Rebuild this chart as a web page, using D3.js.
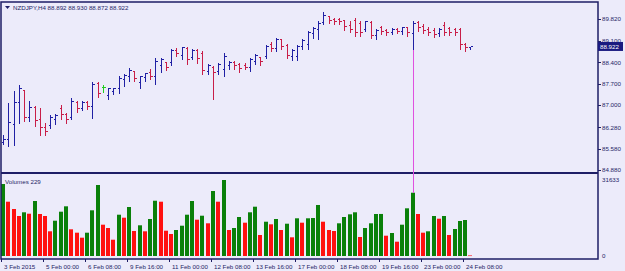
<!DOCTYPE html>
<html>
<head>
<meta charset="utf-8">
<script src="https://cdn.jsdelivr.net/npm/d3@7"></script>
<style>
  body { margin: 0; background: #ecebfa; }
  svg { display: block; font-family: "Liberation Sans", Arial, sans-serif; }
</style>
</head>
<body>
<svg id="chart" width="625" height="271"></svg>
<script>
let symbol = 'NZDJPY,H4';

// H4 bars, 3 Feb 16:00 .. 24 Feb 12:00
let opens = [85.80, 85.88, 86.40, 87.10, 87.50, 86.62, 86.95, 86.55, 86.30, 86.35,
  86.55, 86.90, 86.72, 86.60, 87.12, 86.92, 87.10, 86.98, 87.72, 87.58,
  87.35, 87.45, 87.55, 87.85, 87.95, 88.12, 87.75, 87.92, 88.10, 87.95,
  88.30, 88.40, 88.40, 88.80, 88.65, 88.88, 88.58, 88.80, 88.70, 88.12,
  88.25, 88.12, 88.20, 88.30, 88.42, 88.35, 88.30, 88.25, 88.45, 88.58,
  88.62, 89.00, 88.88, 89.15, 88.98, 88.60, 88.60, 88.95, 89.00, 89.35,
  89.50, 89.72, 89.92, 89.82, 89.82, 89.78, 89.62, 89.80, 89.70, 89.50,
  89.72, 89.30, 89.55, 89.45, 89.38, 89.50, 89.42, 89.55, 89.35, 89.72,
  89.58, 89.50, 89.45, 89.35, 89.62, 89.52, 89.48, 89.50, 89.00, 88.892];
let highs = [86.05, 87.10, 87.50, 87.69, 87.53, 87.17, 87.01, 86.94, 86.45, 86.71,
  86.74, 87.04, 86.78, 87.27, 87.17, 87.17, 87.17, 87.79, 87.79, 87.69,
  87.60, 87.60, 87.99, 88.05, 88.25, 88.15, 87.99, 88.09, 88.22, 88.58,
  88.58, 88.45, 88.87, 88.90, 88.94, 88.94, 88.87, 88.87, 88.81, 88.38,
  88.31, 88.41, 88.74, 88.48, 88.48, 88.41, 88.41, 88.58, 88.71, 88.61,
  89.00, 89.10, 89.23, 89.20, 89.03, 88.87, 89.00, 89.20, 89.46, 89.59,
  89.79, 90.08, 89.95, 89.89, 89.89, 89.82, 89.79, 89.89, 89.79, 89.79,
  89.79, 89.52, 89.62, 89.52, 89.56, 89.56, 89.59, 89.59, 89.79, 89.79,
  89.69, 89.59, 89.56, 89.56, 89.75, 89.59, 89.56, 89.56, 89.07, 88.930];
let lows = [85.75, 85.70, 85.73, 86.45, 86.52, 86.52, 86.35, 86.06, 86.06, 86.29,
  86.42, 86.58, 86.45, 86.58, 86.81, 86.88, 86.91, 86.61, 87.30, 87.46,
  87.24, 87.40, 87.43, 87.66, 87.82, 87.82, 87.60, 87.82, 87.89, 87.73,
  88.12, 88.18, 88.35, 88.64, 88.54, 88.38, 88.54, 88.41, 88.05, 88.05,
  87.24, 88.05, 87.99, 88.22, 88.22, 88.12, 88.22, 88.15, 88.38, 88.35,
  88.58, 88.81, 88.81, 88.87, 88.58, 88.51, 88.51, 88.87, 88.87, 89.23,
  89.20, 89.69, 89.72, 89.69, 89.69, 89.49, 89.43, 89.30, 89.30, 89.46,
  89.23, 89.20, 89.36, 89.33, 89.36, 89.39, 89.36, 89.30, 88.87, 89.46,
  89.39, 89.33, 89.26, 89.30, 89.33, 89.33, 89.33, 88.87, 88.81, 88.872];
let closes = [85.88, 86.45, 87.10, 87.55, 86.62, 86.95, 86.50, 86.29, 86.15, 86.60,
  86.68, 86.72, 86.55, 87.15, 86.90, 87.10, 86.98, 87.70, 87.40, 87.58,
  87.55, 87.56, 87.90, 87.98, 88.15, 87.90, 87.95, 88.05, 87.95, 88.45,
  88.50, 88.25, 88.80, 88.70, 88.90, 88.50, 88.80, 88.55, 88.15, 88.30,
  88.10, 88.35, 88.60, 88.42, 88.30, 88.22, 88.25, 88.50, 88.65, 88.45,
  88.95, 88.88, 89.15, 88.95, 88.65, 88.80, 88.95, 89.12, 89.40, 89.52,
  89.70, 89.95, 89.80, 89.75, 89.75, 89.60, 89.50, 89.40, 89.40, 89.75,
  89.30, 89.45, 89.42, 89.38, 89.50, 89.42, 89.55, 89.38, 89.70, 89.55,
  89.45, 89.40, 89.33, 89.50, 89.40, 89.40, 89.38, 89.00, 88.89, 88.922];
let volumes = [29960, 22600, 19560, 16650, 18190, 17600, 22890, 17480, 16650, 10280,
  14690, 18440, 20680, 11110, 9700, 7620, 9700, 19020, 29550, 13030,
  11650, 6780, 17190, 15940, 20390, 10400, 12780, 10280, 15400, 23010,
  22600, 10530, 9160, 10820, 12610, 17190, 22890, 15110, 16770, 13610,
  27050, 22600, 31633, 10820, 11650, 16230, 13860, 18190, 20520, 8740,
  14270, 13190, 15400, 10820, 13440, 7780, 15690, 13860, 15690, 15810,
  21230, 14270, 10820, 10400, 13610, 16230, 17350, 18190, 7910, 11650,
  13610, 17480, 17500, 8450, 9570, 5950, 13030, 19850, 26340, 17480,
  9700, 10280, 16650, 15520, 16650, 8740, 11240, 14570, 14980, 229];

let priceTicks = [89.820, 89.100, 88.400, 87.700, 87.000, 86.280, 85.580, 84.880];
let timeLabels = ['3 Feb 2015', '5 Feb 00:00', '6 Feb 08:00', '9 Feb 16:00', '11 Feb 00:00',
  '12 Feb 08:00', '13 Feb 16:00', '17 Feb 00:00', '18 Feb 08:00', '19 Feb 16:00',
  '23 Feb 00:00', '24 Feb 08:00'];
let timeLabelBars = [0, 8, 16, 24, 32, 40, 48, 56, 64, 72, 80, 88];
let markerBar = 78; // pink vertical line

let width = 625;
let height = 271;
let frame = { left: 1, right: 598, top: 2, sep: 173, bottom: 259 };
let navy = '#1e1e66';
let upColor = '#2020a4';
let downColor = '#c81e48';
let dojiColor = '#22cc22';
let fontSize = 6.2;

let n = closes.length;
let fmt = d3.format('.3f');

let x = d3.scaleLinear().domain([0, n - 1]).range([3, 3 + (n - 1) * 5.25]);
let yPrice = d3.scaleLinear().domain([84.88, 89.82]).range([170, 19]);
let yVol = d3.scaleLinear().domain([0, d3.max(volumes)]).range([256, 180]);

let px = i => Math.round(x(i)) + 0.5;
let py = v => Math.round(yPrice(v)) + 0.5;

let svg = d3.select('#chart');

// background
svg.append('rect').attr('width', width).attr('height', height).attr('fill', '#ecebfa');

let bars = d3.range(n).map(i => ({
  i: i, o: opens[i], h: highs[i], l: lows[i], c: closes[i], v: volumes[i]
}));

function barColor(d) {
  if (d.c > d.o) return upColor;
  if (d.c < d.o) return downColor;
  return dojiColor;
}

// volume bars
svg.append('g')
  .selectAll('rect')
  .data(bars)
  .enter()
  .append('rect')
  .attr('x', d => Math.round(x(d.i)) - 2)
  .attr('width', 4)
  .attr('y', d => yVol(d.v))
  .attr('height', d => Math.max(0.6, yVol(0) - yVol(d.v)))
  .attr('fill', d => (d.i === 0 || d.v > volumes[d.i - 1]) ? '#0a800a' : '#ff1010');

// OHLC bars
let ohlc = svg.append('g')
  .attr('shape-rendering', 'crispEdges')
  .selectAll('g')
  .data(bars)
  .enter()
  .append('g')
  .attr('stroke', barColor);

ohlc.append('line')
  .attr('x1', d => px(d.i)).attr('x2', d => px(d.i))
  .attr('y1', d => py(d.h)).attr('y2', d => py(d.l) + 1);
ohlc.append('line')
  .attr('x1', d => px(d.i) - 2).attr('x2', d => px(d.i))
  .attr('y1', d => py(d.o)).attr('y2', d => py(d.o));
ohlc.append('line')
  .attr('x1', d => px(d.i)).attr('x2', d => px(d.i) + 2.5)
  .attr('y1', d => py(d.c)).attr('y2', d => py(d.c));

// frame
let fr = svg.append('g').attr('stroke', navy).attr('fill', 'none');
fr.append('rect')
  .attr('x', frame.left).attr('y', frame.top)
  .attr('width', frame.right - frame.left).attr('height', frame.bottom - frame.top)
  .attr('stroke-width', 1.5);
fr.append('line')
  .attr('x1', frame.left).attr('x2', frame.right)
  .attr('y1', frame.sep).attr('y2', frame.sep)
  .attr('stroke-width', 2);

// pink marker line, from the bar's low down to its volume bar
svg.append('line')
  .attr('x1', px(markerBar)).attr('x2', px(markerBar))
  .attr('y1', py(lows[markerBar]) + 1).attr('y2', yVol(volumes[markerBar]))
  .attr('shape-rendering', 'crispEdges')
  .attr('stroke', '#e050e0').attr('stroke-width', 1);

// price axis
let pa = svg.append('g').attr('font-size', fontSize).attr('fill', navy);
pa.selectAll('line')
  .data(priceTicks)
  .enter()
  .append('line')
  .attr('x1', frame.right).attr('x2', frame.right + 3)
  .attr('y1', d => py(d)).attr('y2', d => py(d))
  .attr('stroke', navy);
pa.selectAll('text')
  .data(priceTicks)
  .enter()
  .append('text')
  .attr('x', frame.right + 4)
  .attr('y', d => yPrice(d) + 2.3)
  .text(d => fmt(d));

// current price box
let last = bars[n - 1];
svg.append('rect')
  .attr('x', frame.right).attr('y', yPrice(last.c) - 4.5)
  .attr('width', 25).attr('height', 9)
  .attr('fill', '#1a1a80');
svg.append('text')
  .attr('x', frame.right + 2).attr('y', yPrice(last.c) + 2.3)
  .attr('font-size', fontSize).attr('fill', '#fff')
  .text(fmt(last.c));

// volume axis
svg.append('g').attr('font-size', fontSize).attr('fill', navy)
  .selectAll('text')
  .data([d3.max(volumes), 0])
  .enter()
  .append('text')
  .attr('x', frame.right + 4)
  .attr('y', d => yVol(d) + 2.3)
  .text(d => d);

// time axis
let ta = svg.append('g').attr('font-size', fontSize).attr('fill', navy);
ta.selectAll('line')
  .data(timeLabelBars)
  .enter()
  .append('line')
  .attr('x1', d => Math.round(x(d)) - 1.5).attr('x2', d => Math.round(x(d)) - 1.5)
  .attr('y1', frame.bottom).attr('y2', frame.bottom + 3)
  .attr('stroke', navy);
ta.selectAll('text')
  .data(timeLabelBars)
  .enter()
  .append('text')
  .attr('x', d => Math.round(x(d)) + 1)
  .attr('y', 268.5)
  .text((d, k) => timeLabels[k]);

// title and pane label
svg.append('path')
  .attr('d', 'M5,6 L10,6 L7.5,9 Z')
  .attr('fill', navy);
svg.append('text')
  .attr('x', 13).attr('y', 10)
  .attr('font-size', fontSize).attr('fill', navy)
  .text(symbol + '  ' + [last.o, last.h, last.l, last.c].map(fmt).join(' '));
svg.append('text')
  .attr('x', 5).attr('y', 183.5)
  .attr('font-size', fontSize).attr('fill', navy)
  .text('Volumes ' + last.v);
</script>
</body>
</html>
